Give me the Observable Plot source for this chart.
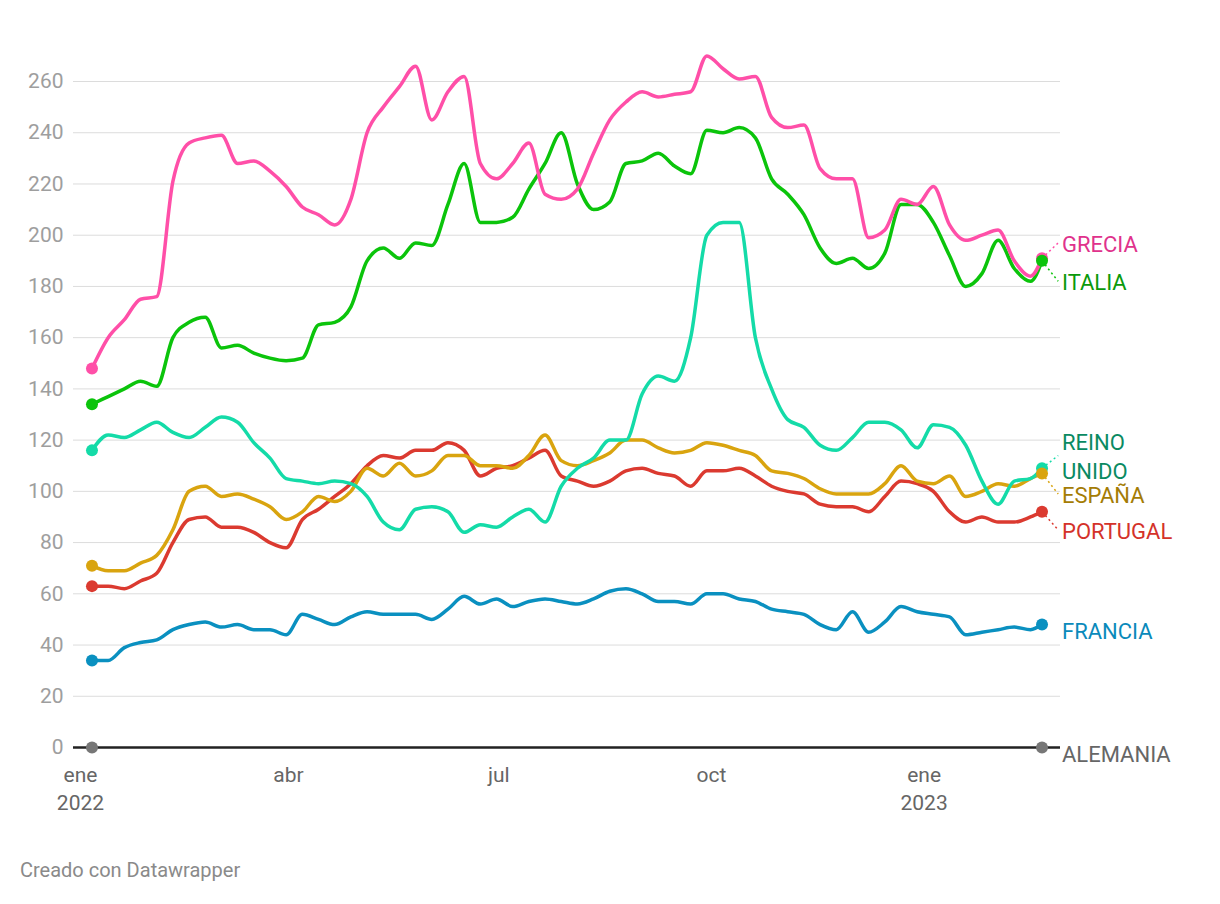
<!DOCTYPE html>
<html><head><meta charset="utf-8">
<script src="https://cdn.jsdelivr.net/npm/d3@7"></script>
<script src="https://cdn.jsdelivr.net/npm/@observablehq/plot@0.6"></script>
<style>
body{margin:0;background:#fff;font-family:Roboto,sans-serif}
#cap{position:absolute;left:20px;top:858px;font-size:20px;color:#8a8a8a;font-family:Roboto,sans-serif}
</style></head><body>
<div id="chart"></div>
<div id="cap">Creado con Datawrapper</div>
<script>
const startDate = "2022-01-06";
const endDate = "2023-02-21";
const grecia = [148,160,167,175,176,221,236,238,239,228,229,225,219,211,208,204,214,240,250,258,266,245,256,262,228,222,228,236,216,214,218,232,245,252,256,254,255,256,270,265,261,262,246,242,243,226,222,222,199,202,214,212,219,204,198,200,202,190,184,191];
const italia = [134,137,140,143,141,160,166,168,156,157,154,152,151,152,165,166,172,190,195,191,197,196,212,228,205,205,207,218,228,240,220,210,213,228,229,232,227,224,241,240,242,238,222,216,208,195,189,191,187,193,212,212,205,192,180,185,198,187,182,190];
const reino = [116,122,121,124,127,123,121,125,129,127,119,113,105,104,103,104,103,98,88,85,93,94,92,84,87,86,90,93,88,102,109,113,120,120,138,145,143,160,200,205,205,160,140,128,125,118,116,121,127,127,124,117,126,125,118,104,95,104,105,109];
const espana = [71,69,69,72,75,85,100,102,98,99,97,94,89,92,98,96,100,109,106,111,106,108,114,114,110,110,109,114,122,112,110,112,115,120,120,117,115,116,119,118,116,114,108,107,105,101,99,99,99,103,110,104,103,106,98,100,103,102,105,107];
const portugal = [63,63,62,65,68,80,89,90,86,86,84,80,78,89,93,98,103,110,114,113,116,116,119,116,106,109,110,113,116,106,104,102,104,108,109,107,106,102,108,108,109,106,102,100,99,95,94,94,92,98,104,103,100,92,88,90,88,88,90,92];
const francia = [34,34,39,41,42,46,48,49,47,48,46,46,44,52,50,48,51,53,52,52,52,50,54,59,56,58,55,57,58,57,56,58,61,62,60,57,57,56,60,60,58,57,54,53,52,48,46,53,45,49,55,53,52,51,44,45,46,47,46,48];
const alemania = grecia.map(() => 0);

const names = ["GRECIA","ITALIA","REINO UNIDO","ESPAÑA","PORTUGAL","FRANCIA","ALEMANIA"];
const lineColors = ["#ff4fa8","#0bc40b","#14dba8","#d9a40f","#db3a30","#0a90c0","#777777"];
const labelColors = ["#e0328c","#0a9a0a","#0a8a62","#a47c05","#d4322a","#0a8abb","#666666"];
const labelY = [197,182,114,99,85,46,-2];
const seriesVals = [grecia,italia,reino,espana,portugal,francia,alemania];
const tickDates = ["2022-01-01","2022-04-01","2022-07-01","2022-10-01","2023-01-01"];
const tickText = ["ene\n2022","abr","jul","oct","ene\n2023"];
const yTicks = [0,20,40,60,80,100,120,140,160,180,200,220,240,260];

const s0 = new Date(startDate);
function dateAt(i, n){ if(i===n-1) return new Date(endDate); const d=new Date(s0); d.setUTCDate(d.getUTCDate()+7*i); return d; }
const rows = [];
seriesVals.forEach((vals, k) => vals.forEach((v,i) => rows.push({name:names[k], k, date:dateAt(i, vals.length), value:v})));
const ends = seriesVals.map((vals,k)=>({name:names[k],k,date:new Date(endDate),value:vals[vals.length-1],ly:labelY[k]}));
const starts = seriesVals.map((vals,k)=>({k,date:new Date(startDate),value:vals[0]}));
const endPlus = d => { const x=new Date(d); x.setUTCDate(x.getUTCDate()+7); return x; };
const order = [6,5,4,3,2,1,0];
const fmt = d=>tickText[tickDates.indexOf(d.toISOString().slice(0,10))];

const chart = Plot.plot({
  width:1220, height:840,
  marginLeft:73, marginRight:160, marginTop:55.4, marginBottom:93,
  style:{fontFamily:"Roboto, sans-serif", fontSize:"21px"},
  x:{type:"utc", domain:[new Date("2021-12-29"), new Date("2023-03-01")], label:null},
  y:{domain:[0,270], label:null},
  marks:[
    Plot.gridY(yTicks,{stroke:"#dcdcdc", strokeOpacity:1, strokeWidth:1}),
    Plot.axisY(yTicks,{tickSize:0, tickPadding:10, fill:"#9e9e9e", fontSize:21, textAnchor:"end"}),
    Plot.axisX(tickDates.map(d=>new Date(d)),{tickSize:0, tickPadding:14, fill:"#666", fontSize:21, lineHeight:1.35, tickFormat:fmt}),
    Plot.ruleY([0],{stroke:"#222", strokeWidth:2.5}),
    ...order.filter(k=>k!==6).map(k=>Plot.line(rows.filter(r=>r.k===k),{x:"date",y:"value",stroke:lineColors[k],strokeWidth:3.5,curve:"monotone-x"})),
    Plot.link(ends.filter(d=>d.k!==6&&d.k!==5),{x1:"date",y1:"value",x2:d=>endPlus(d.date),y2:"ly",stroke:d=>lineColors[d.k],strokeDasharray:"2,3",strokeWidth:1.5}),
    Plot.dot(starts,{x:"date",y:"value",r:6,fill:d=>lineColors[d.k]}),
    Plot.dot(ends,{x:"date",y:"value",r:6,fill:d=>lineColors[d.k]}),
    Plot.text(ends,{x:"date",y:"ly",text:d=>d.name==="REINO UNIDO"?"REINO\nUNIDO":d.name,fill:d=>labelColors[d.k],
      textAnchor:"start",dx:20,fontSize:22,lineHeight:1.3})
  ]
});
document.getElementById("chart").appendChild(chart);
</script></body></html>
